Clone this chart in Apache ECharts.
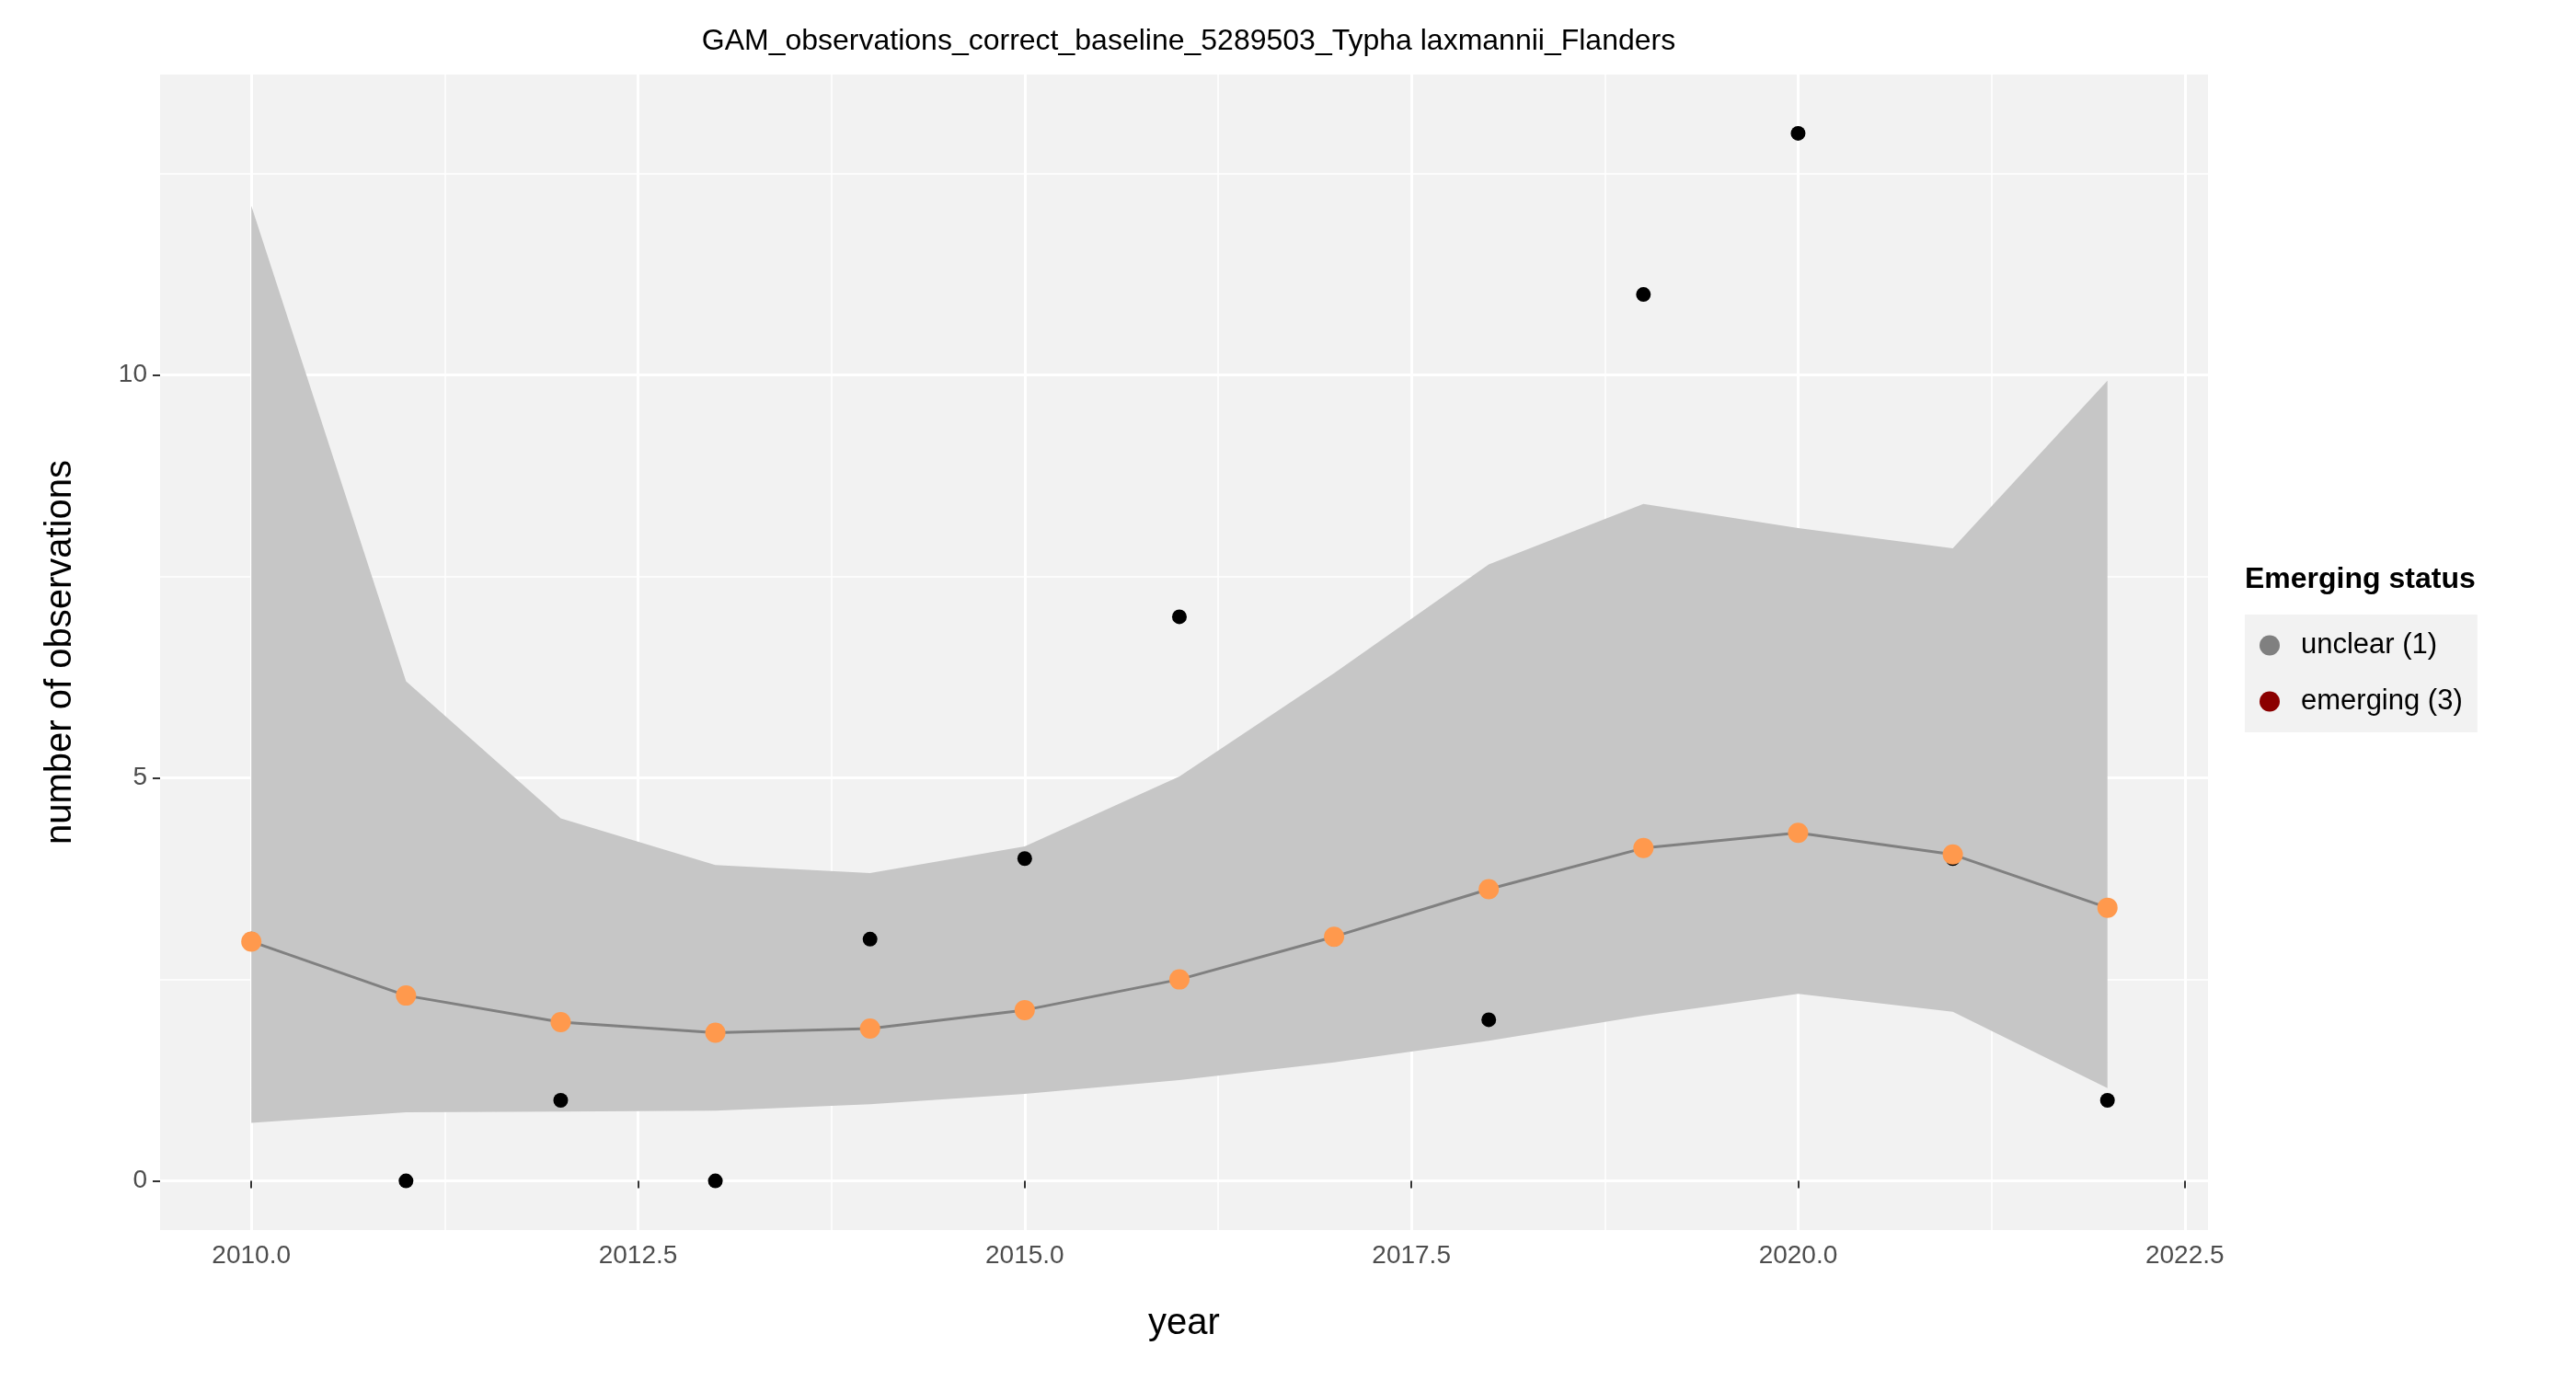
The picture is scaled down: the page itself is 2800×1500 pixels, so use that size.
<!DOCTYPE html>
<html>
<head>
<meta charset="utf-8">
<script src="https://cdn.jsdelivr.net/npm/echarts@6/dist/echarts.min.js"></script>
<style>html,body{margin:0;background:#fff}#main{width:2800px;height:1500px}</style>
</head>
<body>
<div id="main"></div>
<script>
// data
var years = [2010, 2011, 2012, 2013, 2014, 2015, 2016, 2017, 2018, 2019, 2020, 2021, 2022];
var observed = [3, 0, 1, 0, 3, 4, 7, 3, 2, 11, 13, 4, 1];
var fitted = [2.97, 2.30, 1.97, 1.84, 1.89, 2.12, 2.50, 3.03, 3.62, 4.13, 4.32, 4.05, 3.39];
var lower = [0.72, 0.85, 0.86, 0.87, 0.95, 1.08, 1.25, 1.47, 1.74, 2.05, 2.32, 2.10, 1.15];
var upper = [12.1, 6.2, 4.5, 3.92, 3.82, 4.15, 5.02, 6.3, 7.65, 8.4, 8.1, 7.85, 9.93];
var status = ["unclear", "unclear", "unclear", "unclear", "unclear", "unclear", "emerging", "emerging", "emerging", "unclear", "unclear", "unclear", "unclear"];
var xTicks = [2010, 2012.5, 2015, 2017.5, 2020, 2022.5];
var xMinor = [2011.25, 2013.75, 2016.25, 2018.75, 2021.25];
var yTicks = [0, 5, 10];
var yMinor = [2.5, 7.5, 12.5];
var statusColor = { unclear: "#808080", emerging: "#8b0000" };

var chart = echarts.init(document.getElementById("main"));
var font = "Liberation Sans, Arial, sans-serif";

function gridLines(vals, dim, width) {
  return vals.map(function (v) {
    var o = {}; o[dim] = v;
    return Object.assign(o, { lineStyle: { color: "#fff", width: width, type: "solid" } });
  });
}

// ribbon polygon: upper edge forward, lower edge backward
var ribbon = years.map(function (y, i) { return [y, upper[i]]; })
  .concat(years.slice().reverse().map(function (y, k) { return [y, lower[years.length - 1 - k]]; }));

chart.setOption({
  animation: false,
  title: {
    text: "GAM_observations_correct_baseline_5289503_Typha laxmannii_Flanders",
    left: 1287, top: 24, textAlign: "center",
    textStyle: { fontFamily: font, fontWeight: "normal", fontSize: 32, color: "#000" }
  },
  grid: { left: 174, right: 400, top: 81, bottom: 163, show: true, backgroundColor: "#f2f2f2", borderWidth: 0 },
  xAxis: {
    type: "value", min: 2009.41, max: 2022.65,
    name: "year", nameLocation: "middle", nameGap: 82,
    nameTextStyle: { fontFamily: font, fontSize: 40, color: "#000" },
    axisLine: { show: false },
    splitLine: { show: false },
    axisTick: { show: true, customValues: xTicks, length: 8, lineStyle: { color: "#333", width: 2 } },
    axisLabel: { customValues: xTicks, fontFamily: font, fontSize: 28, color: "#4d4d4d", margin: 14,
      formatter: function (v) { return v.toFixed(1); } }
  },
  yAxis: {
    type: "value", min: -0.61, max: 13.73,
    name: "number of observations", nameLocation: "middle", nameGap: 88,
    nameTextStyle: { fontFamily: font, fontSize: 40, color: "#000" },
    axisLine: { show: false },
    splitLine: { show: false },
    axisTick: { show: true, customValues: yTicks, length: 8, lineStyle: { color: "#333", width: 2 } },
    axisLabel: { customValues: yTicks, fontFamily: font, fontSize: 28, color: "#4d4d4d", margin: 14 }
  },
  legend: {
    left: 2440, top: 668, orient: "vertical", itemGap: 30,
    backgroundColor: "#f2f2f2", padding: [18, 16, 18, 16],
    icon: "circle", itemWidth: 22, itemHeight: 22,
    textStyle: { fontFamily: font, fontSize: 31, color: "#000", padding: [0, 0, 0, 18] },
    data: ["unclear (1)", "emerging (3)"]
  },
  graphic: [{
    type: "text", left: 2440, top: 614,
    style: { text: "Emerging status", fontFamily: font, fontSize: 32, fontWeight: "bold", fill: "#000" }
  }],
  series: [
    {
      type: "line", name: "grid", data: [], silent: true, z: 0,
      markLine: {
        symbol: "none", silent: true, label: { show: false }, z: 0,
        data: gridLines(xMinor, "xAxis", 1.5).concat(gridLines(yMinor, "yAxis", 1.5))
          .concat(gridLines(xTicks, "xAxis", 3)).concat(gridLines(yTicks, "yAxis", 3))
      }
    },
    {
      type: "custom", name: "band", silent: true, z: 2,
      data: [0],
      renderItem: function (params, api) {
        return {
          type: "polygon",
          shape: { points: ribbon.map(function (p) { return api.coord(p); }) },
          style: { fill: "#c6c6c6" }
        };
      }
    },
    {
      type: "scatter", name: "observed", symbolSize: 16, z: 3,
      data: years.map(function (y, i) { return [y, observed[i]]; }),
      itemStyle: { color: "#000", opacity: 1 }
    },
    {
      type: "line", name: "fit", symbol: "none", z: 4,
      data: years.map(function (y, i) { return [y, fitted[i]]; }),
      lineStyle: { color: "#808080", width: 3 }
    },
    {
      type: "scatter", name: "fitpts", symbolSize: 22, z: 5,
      data: years.map(function (y, i) {
        return { value: [y, fitted[i]], itemStyle: { color: statusColor[status[i]], opacity: 1 } };
      })
    },
    { type: "scatter", name: "unclear (1)", data: [], itemStyle: { color: statusColor.unclear, opacity: 1 } },
    { type: "scatter", name: "emerging (3)", data: [], itemStyle: { color: statusColor.emerging, opacity: 1 } }
  ]
});
</script>
</body>
</html>
